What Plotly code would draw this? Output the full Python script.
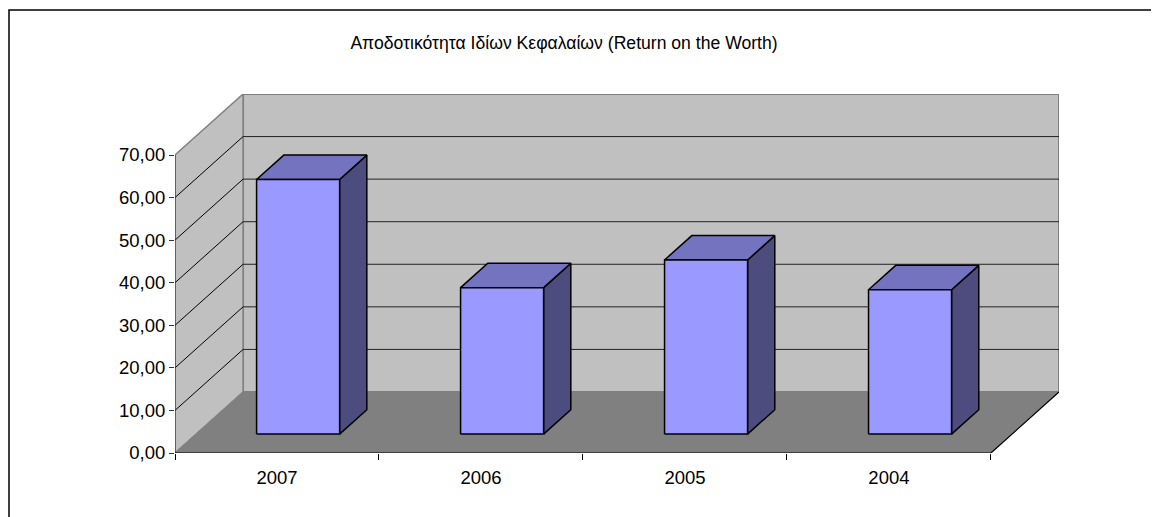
import plotly.graph_objects as go

# ---------------- data ----------------
categories = ["2007", "2006", "2005", "2004"]
values = [59.8, 34.4, 40.9, 33.9]
y_tick_values = [0, 10, 20, 30, 40, 50, 60, 70]
title_text = "Αποδοτικότητα Ιδίων Κεφαλαίων (Return on the Worth)"

# ---------------- style / geometry ----------------
DX = 0.3337      # depth offset (category units)
DY = 14.33       # depth offset (value units)
BAR_W = 0.407    # bar width (category units)
T_FRONT, T_BACK = 0.31, 0.71
YMAX = y_tick_values[-1]
n = len(categories)
FONT = "Liberation Sans, Arial, sans-serif"

C_WALL = "#C0C0C0"
C_FLOOR = "#808080"
C_FRONT = "#9999FF"
C_TOP = "#7373BF"
C_SIDE = "#4C4C7F"

# page body has an 8px margin; compensate
OFF = 8


def pt(x, y, t):
    return (x + t * DX, y + t * DY)


def add_polys(xs, ys, pts):
    for p in pts + [pts[0]]:
        xs.append(p[0])
        ys.append(p[1])
    xs.append(None)
    ys.append(None)


fig = go.Figure()


def poly_trace(polys, fill, line_color, line_width):
    xs, ys = [], []
    for p in polys:
        add_polys(xs, ys, p)
    fig.add_trace(go.Scatter(x=xs, y=ys, mode="lines", fill="toself",
                             fillcolor=fill,
                             line=dict(color=line_color, width=line_width),
                             hoverinfo="skip", showlegend=False))


def line_trace(segs, color, width):
    xs, ys = [], []
    for (a, b) in segs:
        xs += [a[0], b[0], None]
        ys += [a[1], b[1], None]
    fig.add_trace(go.Scatter(x=xs, y=ys, mode="lines",
                             line=dict(color=color, width=width),
                             hoverinfo="skip", showlegend=False))


# back wall
poly_trace([[pt(0, 0, 1), pt(n, 0, 1), pt(n, YMAX, 1), pt(0, YMAX, 1)]],
           C_WALL, C_FLOOR, 2)
# left side wall
poly_trace([[pt(0, 0, 0), pt(0, 0, 1), pt(0, YMAX, 1), pt(0, YMAX, 0)]],
           C_WALL, C_FLOOR, 1.5)
# gridlines
grid_back = [(pt(0, v, 1), pt(n, v, 1)) for v in y_tick_values[1:-1]]
grid_side = [(pt(0, v, 0), pt(0, v, 1)) for v in y_tick_values[1:-1]]
line_trace(grid_back, "#222222", 1)
line_trace(grid_side, "#000000", 1)
# floor
poly_trace([[pt(0, 0, 0), pt(n, 0, 0), pt(n, 0, 1), pt(0, 0, 1)]],
           C_FLOOR, C_FLOOR, 1)
line_trace([(pt(n, 0, 0), pt(n, 0, 1))], "#000000", 1.2)

# bars
fronts, tops, sides = [], [], []
for i, v in enumerate(values):
    xl = i + 0.5 - BAR_W / 2
    xr = i + 0.5 + BAR_W / 2
    fronts.append([pt(xl, 0, T_FRONT), pt(xr, 0, T_FRONT),
                   pt(xr, v, T_FRONT), pt(xl, v, T_FRONT)])
    tops.append([pt(xl, v, T_FRONT), pt(xr, v, T_FRONT),
                 pt(xr, v, T_BACK), pt(xl, v, T_BACK)])
    sides.append([pt(xr, 0, T_FRONT), pt(xr, 0, T_BACK),
                  pt(xr, v, T_BACK), pt(xr, v, T_FRONT)])
poly_trace(sides, C_SIDE, "#000000", 1.5)
poly_trace(tops, C_TOP, "#000000", 1.5)
poly_trace(fronts, C_FRONT, "#000000", 1.5)

# front axis lines
line_trace([((0, 0), (0, YMAX))], "#333333", 1)
line_trace([((0, 0), (n, 0))], "#000000", 1.2)

# ---------------- layout ----------------
# target screen pixels: plot left 175, right 1059, top 94, bottom 453
W, H = 1159 - OFF, 517 - OFF
L = 175 - OFF
T = 94 - OFF
R = W - (1059 - OFF)
B = H - (453 - OFF)
pw, ph = W - L - R, H - T - B


def scr_to_paper_x(px):
    return (px - OFF - L) / pw


def scr_to_paper_y(py):
    return (H - B - (py - OFF)) / ph


fig.update_layout(
    width=W, height=H,
    margin=dict(l=L, r=R, t=T, b=B, autoexpand=False),
    paper_bgcolor="white", plot_bgcolor="white",
    separators=",.",
    font=dict(family=FONT, size=18, color="black"),
    title=dict(text=title_text, x=(564 - OFF) / W, y=1 - (43 - OFF) / H,
               xref="container", yref="container", xanchor="center",
               yanchor="middle",
               font=dict(family=FONT, size=17.6, color="black")),
    xaxis=dict(range=[0, n + DX], tickmode="array",
               tickvals=[i + 0.5 for i in range(n)], ticktext=categories,
               ticks="", showgrid=False, zeroline=False, showline=False,
               ticklabelstandoff=11,
               tickfont=dict(family=FONT, size=18.5, color="black"),
               minor=dict(tickmode="array", tickvals=list(range(n + 1)),
                          ticks="outside", ticklen=6, tickcolor="#000000",
                          tickwidth=1, showgrid=False)),
    yaxis=dict(range=[0, YMAX + DY], tickmode="array",
               tickvals=y_tick_values, tickformat=".2f",
               ticks="outside", ticklen=5, tickcolor="#333333",
               showgrid=False, zeroline=False, showline=False,
               tickfont=dict(family=FONT, size=18.5, color="black")),
    shapes=[dict(type="rect", xref="paper", yref="paper",
                 x0=scr_to_paper_x(9), x1=scr_to_paper_x(1175),
                 y0=scr_to_paper_y(540), y1=scr_to_paper_y(10),
                 line=dict(color="black", width=1.5),
                 fillcolor="rgba(0,0,0,0)", layer="below")],
)

fig.write_html("out.html")
